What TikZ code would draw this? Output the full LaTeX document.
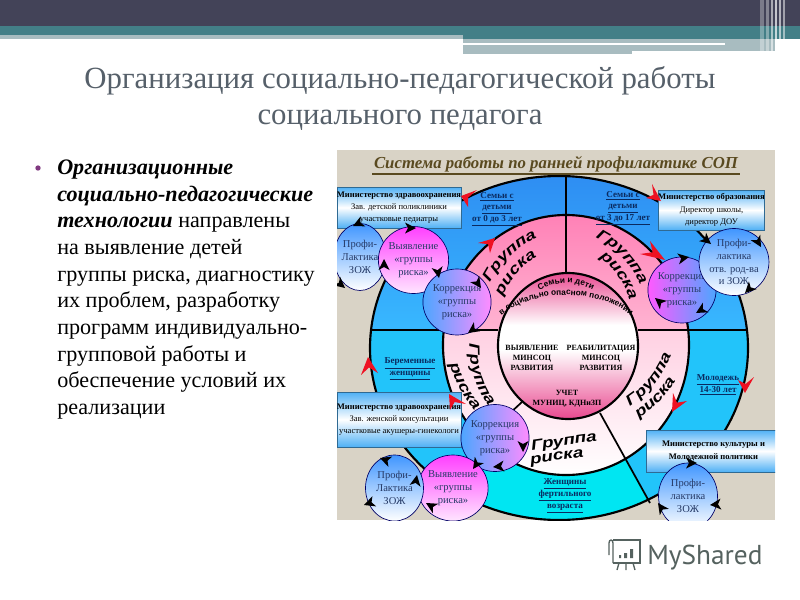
\documentclass[tikz,border=0pt]{standalone}
\usepackage{fontspec}
\setmainfont{Liberation Serif}
\setsansfont{Liberation Sans}
\newfontfamily\ptlogo{PT Sans}
\newfontfamily\grpsans[FakeStretch=1.28]{Liberation Sans}
\usetikzlibrary{shapes.geometric,decorations.text,calc}
\definecolor{bardark}{HTML}{434358}
\definecolor{barteal}{HTML}{437F87}
\definecolor{barpale}{HTML}{A8BCC0}
\definecolor{titlegray}{HTML}{56606A}
\definecolor{backbeige}{HTML}{D9D3C6}
\definecolor{headbrown}{HTML}{5A4A20}
\definecolor{labnavy}{HTML}{0A2A60}
\definecolor{ovaltext}{HTML}{263A66}
\definecolor{logogray}{HTML}{55625F}
\definecolor{redtip}{HTML}{EE1122}
\definecolor{ringtop}{HTML}{2E8CF2}
\definecolor{ringmid}{HTML}{38B8FF}
\definecolor{ringside}{HTML}{22C4FA}
\definecolor{ringbot}{HTML}{00E6F2}
\definecolor{pinktop}{HTML}{FF7FB5}
\definecolor{pinkmid}{HTML}{FFB4D2}
\definecolor{pinklow}{HTML}{FFD0E2}
\definecolor{diskpink}{HTML}{E8408A}
\definecolor{boxblue}{HTML}{4FB0F5}
\tikzset{
  bluebox/.style={draw=black!40!boxblue,line width=.6pt,top color=boxblue,bottom color=boxblue,middle color=white,align=center,inner sep=0pt},
  oval/.style={ellipse,draw=black!60!blue,line width=.5pt,inner sep=0pt,align=center,text=ovaltext,font=\fontsize{7.9pt}{9.6pt}\selectfont},
  profi/.style={oval,top color=blue!55!cyan!75,bottom color=white},
  vyyav/.style={oval,top color=magenta!75!white,bottom color=magenta!10!white},
  korr/.style={oval,left color=blue!50!cyan!70,right color=magenta!45!white},
  korrb/.style={oval,left color=magenta!65!white,right color=blue!50!cyan!70},
  seglabel/.style={align=center,text=labnavy,font=\fontsize{6.8pt}{8.8pt}\selectfont\bfseries},
  boxtext/.style={font=\fontsize{6.4pt}{9.2pt}\selectfont},
  inlabel/.style={align=center,font=\fontsize{6pt}{7.6pt}\selectfont\bfseries},
  divider/.style={black,line width=1.3pt},
}
\newcommand\grpfont{\fontsize{11pt}{11pt}\selectfont\grpsans\bfseries\itshape}
\newcommand\smfont{\fontsize{6.2pt}{6.2pt}\selectfont\sffamily\bfseries}
% black tip: x, y, direction counter-clockwise in degrees
\newcommand\blk[3]{\fill[black,shift={(#1,#2)},rotate=#3] (0,0) -- (-11,-5.5) -- (-8,0) -- (-11,5.5) -- cycle;}
% red tip: tip, barb, barb
\newcommand\red[3]{\fill[redtip] (#1) -- (#2) -- ($.38*(#1)+.31*(#2)+.31*(#3)$) -- (#3) -- cycle;}
% text along an elliptical arc: cx, cy, rx, ry, from, to, text
\newcommand\arctxt[7]{\path[decorate,decoration={text along path,text align=center,text={#7}}]
  ({#1+#3*cos(#5)},{#2+#4*sin(#5)}) arc[start angle=#5,end angle=#6,x radius=#3,y radius=#4];}
\begin{document}
\begin{tikzpicture}[x=.75pt,y=-.75pt]
\useasboundingbox (0,0) rectangle (800,600);
\fill[white] (0,0) rectangle (800,600);
% top band
\fill[bardark] (0,0) rectangle (800,26);
\fill[barteal] (0,26) rectangle (800,35);
\fill[barteal] (463,35) rectangle (800,39);
\fill[barpale] (0,35) rectangle (463,39);
\fill[barpale] (463,39) rectangle (775,51);
\fill[barpale] (463,51) rectangle (632,54);
\fill[white] (463,43) rectangle (725,45);
\foreach \sx/\sw/\so in {760/4/.3,766/3/.35,771/2/.55,775/2/.7,779/1.5/.6,783/1.5/.5}{
  \fill[white,opacity=\so] (\sx,0) rectangle ++(\sw,53);}
% title
\node[text=titlegray,align=center,font=\fontsize{23.1pt}{27pt}\selectfont] (title) at (400,98)
  {Организация социально-педагогической работы\\социального педагога};
% body
\node[circle,fill=violet!55!gray,inner sep=0pt,minimum size=4pt] (bull) at (38,168) {};
\node[anchor=north west,align=left,inner sep=0pt,font=\fontsize{16.6pt}{20pt}\selectfont] (body) at (57,159.5)
 {\textbf{\textit{Организационные}}\\
  \textbf{\textit{социально-педагогические}}\\
  \textbf{\textit{технологии}} направлены\\
  на выявление детей\\
  группы риска, диагностику\\
  их проблем, разработку\\
  программ индивидуально-\\
  групповой работы и\\
  обеспечение условий их\\
  реализации};
% diagram
\begin{scope}
\clip (337,150) rectangle (775,520);
\fill[backbeige] (337,150) rectangle (775,520);
% outer ring
\begin{scope}
  \clip (559,348) ellipse [x radius=189,y radius=172];
  \shade[top color=ringtop,bottom color=ringmid] (360,170) rectangle (760,330);
  \fill[ringside] (360,330) rectangle (760,530);
  \fill[ringbot] (522,402) -- (394,520) -- (670,540) -- (600,413) -- cycle;
\end{scope}
\draw[black,line width=1.6pt] (559,348) ellipse [x radius=189,y radius=172];
% middle ring
\begin{scope}
  \clip (566,345) ellipse [x radius=123,y radius=130];
  \shade[top color=pinktop,bottom color=pinkmid] (440,210) rectangle (690,330);
  \shade[top color=pinklow,bottom color=white] (440,330) rectangle (690,476);
\end{scope}
\draw[black,line width=1.6pt] (566,345) ellipse [x radius=123,y radius=130];
% dividing lines
\draw[divider] (370,330) -- (498,330);
\draw[divider] (638,330) -- (748,330);
\draw[divider] (566,176) -- (566,273);
\draw[divider] (522,402) -- (470,450);
\draw[divider] (600,413) -- (650,503);
% inner disk
\begin{scope}
  \clip (568,346) ellipse [x radius=70,y radius=73];
  \shade[top color=diskpink,bottom color=white] (490,270) rectangle (650,325);
  \fill[white] (490,325) rectangle (650,350);
  \shade[top color=white,bottom color=diskpink] (490,350) rectangle (650,422);
\end{scope}
\draw[black,line width=1.6pt] (568,346) ellipse [x radius=70,y radius=73];
\arctxt{566}{345}{57}{62}{225}{315}{|\smfont|Семьи и дети}
\arctxt{566}{345}{80}{50}{190}{350}{|\smfont|в социально опасном положении}
\node[inlabel] (vy) at (532,358) {ВЫЯВЛЕНИЕ\\МИНСОЦ\\РАЗВИТИЯ};
\node[inlabel] (re) at (601,358) {РЕАБИЛИТАЦИЯ\\МИНСОЦ\\РАЗВИТИЯ};
\node[inlabel] (uc) at (567,399) {УЧЕТ\\МУНИЦ, КДНиЗП};
% group labels
\arctxt{580}{329}{101}{101}{186}{266}{|\grpfont|Группа}
\arctxt{580}{329}{84}{84}{181}{261}{|\grpfont|риска}
\arctxt{552.5}{322}{95}{95}{277}{357}{|\grpfont|Группа}
\arctxt{552.5}{322}{80}{80}{285}{365}{|\grpfont|риска}
\arctxt{573}{318}{105}{105}{79}{-1}{|\grpfont|Группа}
\arctxt{573}{318}{120}{120}{74}{14}{|\grpfont|риска}
\arctxt{569.5}{347}{100}{100}{203}{123}{|\grpfont|Группа}
\arctxt{570}{330}{125}{125}{192}{112}{|\grpfont|риска}
\node[rotate=8,font=\grpfont] (bgr) at (564,442) {Группа};
\node[rotate=8,font=\grpfont] (bri) at (557,458) {риска};
% segment labels
\node[seglabel] (s1) at (497,209) {\underline{Семьи с}\\\underline{детьми}\\\underline{от 0 до 3 лет}};
\node[seglabel] (s2) at (623,208) {\underline{Семьи с}\\\underline{детьми}\\\underline{от 3 до 17 лет}};
\node[seglabel] (s3) at (410,369) {\underline{Беременные}\\\underline{женщины}};
\node[seglabel] (s4) at (718,385) {\underline{Молодежь}\\\underline{14-30 лет}};
\node[seglabel] (s5) at (565,496) {\underline{Женщины}\\\underline{фертильного}\\\underline{возраста}};
% boxes
\node[bluebox,minimum width=124pt*.75,minimum height=41pt*.75,boxtext] (b1) at (399,207.5)
  {\textbf{Министерство здравоохранения}\\Зав. детской поликлиники\\участковые педиатры};
\node[bluebox,minimum width=105pt*.75,minimum height=40pt*.75,boxtext] (b2) at (711.5,210)
  {\textbf{Министерство образования}\\Директор школы,\\директор ДОУ};
\node[bluebox,minimum width=124pt*.75,minimum height=55pt*.75,boxtext] (b3) at (399,419.5)
  {\textbf{Министерство здравоохранения}\\Зав. женской консультации\\участковые акушеры-гинекологи};
\node[bluebox,minimum width=135pt*.75,minimum height=42pt*.75,boxtext] (b4) at (713.5,451)
  {\textbf{Министерство культуры и}\\\textbf{Молодежной политики}};
% ovals
\node[profi,minimum width=49pt*.75,minimum height=67pt*.75] (o1) at (360,257) {Профи-\\Лактика\\ЗОЖ};
\node[vyyav,minimum width=57pt*.75,minimum height=67pt*.75] (o2) at (413.5,260) {Выявление\\«группы\\риска»};
\node[korr,minimum width=59pt*.75,minimum height=66pt*.75] (o3) at (457,302) {Коррекция\\«группы\\риска»};
\node[korrb,minimum width=55pt*.75,minimum height=66pt*.75] (o4) at (682,290) {Коррекция\\«группы\\риска»};
\node[profi,minimum width=58pt*.75,minimum height=67pt*.75] (o5) at (734,262) {Профи-\\лактика\\отв. род-ва\\и ЗОЖ};
\node[korr,minimum width=54pt*.75,minimum height=67pt*.75] (o6) at (495,438) {Коррекция\\«группы\\риска»};
\node[vyyav,minimum width=58pt*.75,minimum height=66pt*.75] (o7) at (453,488) {Выявление\\«группы\\риска»};
\node[profi,minimum width=58pt*.75,minimum height=66pt*.75] (o8) at (394.5,488) {Профи-\\Лактика\\ЗОЖ};
\node[profi,minimum width=59pt*.75,minimum height=66pt*.75] (o9) at (688,496) {Профи-\\лактика\\ЗОЖ};
% red tips
\red{461,196}{477,190}{468,207}
\red{495,238}{478,243}{490,253}
\red{661,201}{652,184}{646,198}
\red{665,260}{650,241}{640,254}
\red{745,393}{754,377}{738,380}
\red{672,412}{687,401}{673,393}
\red{368,357}{361,375}{378,373}
\red{449,394}{466,404}{450,410}
% black tips
\blk{353}{226}{205}
\blk{345}{288}{-40}
\blk{384}{259}{90}
\blk{416}{228}{0}
\blk{439}{278}{-80}
\blk{481}{288}{-55}
\blk{468}{333}{215}
\blk{711}{244}{-40}
\blk{761}{247}{-60}
\blk{745}{293}{225}
\blk{689}{257}{10}
\blk{655}{298}{140}
\blk{696}{313}{210}
\blk{380}{458}{160}
\blk{417}{475}{80}
\blk{364}{505}{200}
\blk{426}{503}{150}
\blk{473}{469}{235}
\blk{493}{467}{185}
\blk{523}{452}{-90}
\blk{697}{463}{0}
\blk{658}{503}{125}
\blk{710}{505}{185}
\end{scope}
% heading of the diagram
\node[text=headbrown,font=\fontsize{12.6pt}{14pt}\selectfont\bfseries\itshape] (head) at (556,164)
  {Система работы по ранней профилактике СОП};
\draw[headbrown,line width=1.2pt] (372,174) -- (740,174);
% logo
\node[anchor=west,inner sep=0pt,text=logogray,font=\fontsize{20.5pt}{21pt}\selectfont\ptlogo] (logo) at (647,558) {MyShared};
\begin{scope}[logogray,line width=1pt]
  \draw (613,540) -- (640,540) -- (640,563) -- (613,563);
  \draw (609,555) -- (609,543) .. controls (609,539) and (613,539) .. (613,543) -- (613,563);
  \draw (619,563) -- (617,570) (626,563) -- (626,570) (633,563) -- (635,570);
  \fill (619,555) rectangle (621,558) (624,553) rectangle (627,558) (630,549) rectangle (633,558);
\end{scope}
\end{tikzpicture}
\end{document}
